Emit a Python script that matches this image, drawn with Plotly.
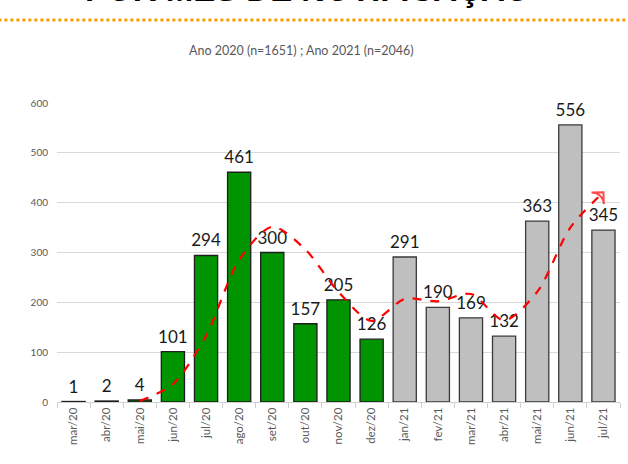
import plotly.graph_objects as go

categories = ["mar/20", "abr/20", "mai/20", "jun/20", "jul/20", "ago/20", "set/20", "out/20",
              "nov/20", "dez/20", "jan/21", "fev/21", "mar/21", "abr/21", "mai/21", "jun/21", "jul/21"]
cases = [1, 2, 4, 101, 294, 461, 300, 157, 205, 126, 291, 190, 169, 132, 363, 556, 345]
year_of_bar = ["2020"] * 10 + ["2021"] * 7

trend_categories = categories[2:]
trend_values = [2.3, 35.7, 133, 285, 351.7, 306, 220.7, 162.7, 207, 202, 216.7, 163.7, 221, 350, 421]

title_text = "POR MÊS DE NOTIFICAÇÃO"
subtitle_text = "Ano 2020 (n=1651) ; Ano 2021 (n=2046)"
y_ticks = [0, 100, 200, 300, 400, 500, 600]

fill_colors = {"2020": "#009400", "2021": "#BFBFBF"}
edge_colors = {"2020": "#1E1E1E", "2021": "#3A3A3A"}

FONT = "Lato"

fig = go.Figure()
fig.add_trace(go.Bar(
    x=categories, y=cases,
    marker=dict(color=[fill_colors[y] for y in year_of_bar],
                line=dict(color=[edge_colors[y] for y in year_of_bar], width=1.3)),
    showlegend=False, hoverinfo="x+y",
))

fig.add_trace(go.Scatter(
    x=categories, y=cases, mode="markers+text",
    text=[str(v) for v in cases], textposition="top center",
    textfont=dict(family=FONT, size=17, color="#1A1A1A"),
    marker=dict(size=6, opacity=0),
    cliponaxis=False, showlegend=False, hoverinfo="skip",
))

symbols = ["circle"] * (len(trend_values) - 1) + ["arrow-wide-open"]
sizes = [0] * (len(trend_values) - 1) + [12]
fig.add_trace(go.Scatter(
    x=trend_categories, y=trend_values, mode="lines+markers",
    line=dict(color="#FF0000", width=2.2, dash="dash", shape="spline", smoothing=0.8),
    marker=dict(symbol=symbols, size=sizes, angleref="previous",
                color="#FF0000", line=dict(color="#FF0000", width=2)),
    showlegend=False, cliponaxis=False,
))

fig.update_layout(
    width=628, height=464,
    margin=dict(l=57, r=8, t=103, b=62),
    plot_bgcolor="white", paper_bgcolor="white",
    bargap=0.3,
    font=dict(family=FONT, color="#595959"),
    xaxis=dict(type="category", range=[-0.5, len(categories) - 0.5],
               tickangle=-90, tickfont=dict(size=11.5, color="#595959"),
               showline=True, linecolor="#D0D0D0", linewidth=1,
               ticks="outside", tickson="boundaries", ticklen=5, tickcolor="#D0D0D0",
               showgrid=False, automargin=False),
    yaxis=dict(range=[0, 600], tickvals=y_ticks, showgrid=True, gridcolor="#D9D9D9",
               gridwidth=1, zeroline=False, showline=False, automargin=False,
               ticklabelstandoff=8,
               tickfont=dict(size=10, color="#595959")),
    shapes=[dict(type="line", xref="paper", yref="paper", x0=-0.2, x1=1.2,
                 y0=1.2776, y1=1.2776,
                 line=dict(color="#F5A000", width=3, dash="3px,3px"))],
    annotations=[
        dict(text="<b>" + title_text + "</b>", xref="paper", yref="paper",
             x=0.446, y=1.31, xanchor="center", yanchor="bottom", showarrow=False,
             font=dict(family="Liberation Sans", size=33, color="#000000")),
        dict(text=subtitle_text, xref="paper", yref="paper",
             x=0.435, y=1.174, xanchor="center", yanchor="middle", showarrow=False,
             font=dict(family=FONT, size=12.5, color="#595959")),
    ],
)

fig.write_html("out.html", config={"displayModeBar": False},
               post_script="document.body.style.margin='0';")
